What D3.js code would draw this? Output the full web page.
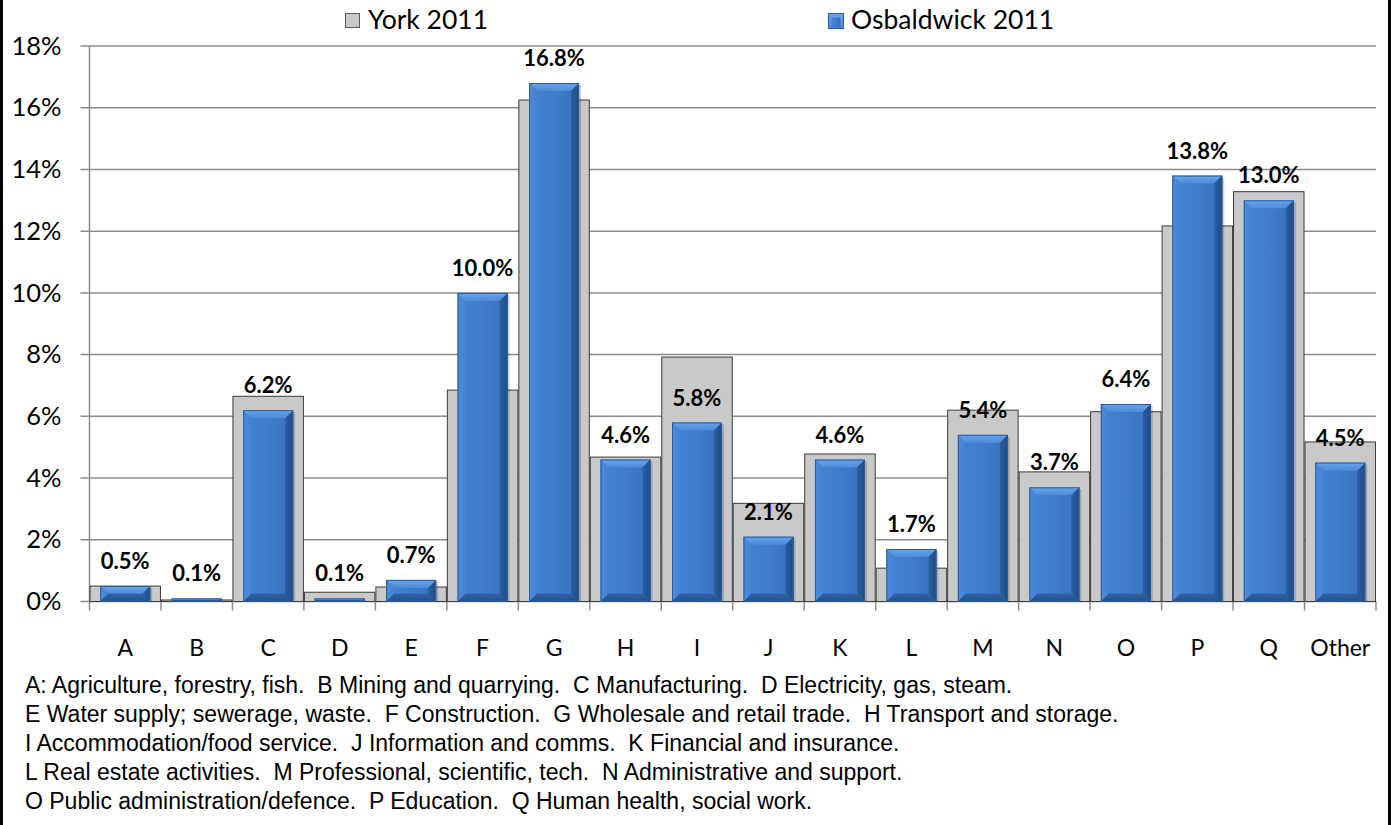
<!DOCTYPE html>
<html>
<head>
<meta charset="utf-8">
<script src="https://d3js.org/d3.v7.min.js"></script>
<style>
    body { margin: 0; background: #fff; }
    svg { display: block; }
    .lbl { font-family: Lato, "Open Sans", sans-serif; }
    .note { font-family: "Liberation Sans", Arial, sans-serif; font-size: 23px; fill: #000; white-space: pre; }
</style>
</head>
<body>
<script>
// categories (industry sections)
const categories = ["A", "B", "C", "D", "E", "F", "G", "H", "I", "J", "K", "L", "M", "N", "O", "P", "Q", "Other"];
// York 2011, % of employed residents
const york = [0.5, 0.05, 6.65, 0.3, 0.47, 6.85, 16.25, 4.68, 7.92, 3.18, 4.78, 1.08, 6.2, 4.2, 6.15, 12.17, 13.28, 5.17];
// Osbaldwick 2011
const osbaldwick = [0.5, 0.1, 6.2, 0.1, 0.7, 10.0, 16.8, 4.6, 5.8, 2.1, 4.6, 1.7, 5.4, 3.7, 6.4, 13.8, 13.0, 4.5];
const yTicks = [0, 2, 4, 6, 8, 10, 12, 14, 16, 18];
const seriesNames = ["York 2011", "Osbaldwick 2011"];
const notes = [
    "A: Agriculture, forestry, fish.  B Mining and quarrying.  C Manufacturing.  D Electricity, gas, steam.",
    "E Water supply; sewerage, waste.  F Construction.  G Wholesale and retail trade.  H Transport and storage.",
    "I Accommodation/food service.  J Information and comms.  K Financial and insurance.",
    "L Real estate activities.  M Professional, scientific, tech.  N Administrative and support.",
    "O Public administration/defence.  P Education.  Q Human health, social work."
];

const createBarChart = () => {
    const width = 1391, height = 825;
    const left = 89.5, right = 1376, top = 46, bottom = 601.5;
    const blueW = 50, bev = 8;

    const svg = d3.select("body").append("svg")
        .attr("width", width)
        .attr("height", height);

    const defs = svg.append("defs");
    const grad = (id, stops, x2, y2) => {
        const g = defs.append("linearGradient").attr("id", id)
            .attr("x1", 0).attr("y1", 0).attr("x2", x2).attr("y2", y2);
        stops.forEach((s) => g.append("stop").attr("offset", s[0]).attr("stop-color", s[1]));
    };
    grad("blueBody", [[0, "#4382d2"], [0.5, "#3f7dcc"], [1, "#3570bd"]], 1, 0);
    grad("blueTop", [[0, "#6aa6ec"], [1, "#4d8ad8"]], 0, 1);
    grad("blueRight", [[0, "#2c5f9f"], [1, "#1f4a82"]], 1, 0);
    grad("blueLeft", [[0, "#4e8cda"], [1, "#4383d3"]], 1, 0);
    grad("blueBottom", [[0, "#2f64a8"], [1, "#254f88"]], 0, 1);

    const xScale = d3.scaleBand()
        .domain(categories)
        .range([left, right])
        .padding(0);

    const yScale = d3.scaleLinear()
        .domain([0, 18])
        .range([bottom, top]);

    // horizontal gridlines
    svg.append("g").selectAll("line")
        .data(yTicks)
        .enter()
        .append("line")
        .attr("x1", left - 9)
        .attr("x2", right)
        .attr("y1", (d) => yScale(d))
        .attr("y2", (d) => yScale(d))
        .attr("stroke", "#8c8c8c")
        .attr("stroke-width", 1.5);

    // y axis labels
    const yAxis = d3.axisLeft(yScale)
        .tickValues(yTicks)
        .tickFormat((d) => d + "%")
        .tickSize(0)
        .tickPadding(28);
    const gy = svg.append("g")
        .attr("transform", "translate(" + left + ",0)")
        .call(yAxis);
    gy.select(".domain").remove();
    gy.selectAll("text")
        .attr("class", "lbl")
        .attr("font-size", 25.5)
        .attr("fill", "#000");

    // vertical axis line
    svg.append("line")
        .attr("x1", left).attr("x2", left)
        .attr("y1", top).attr("y2", bottom + 9)
        .attr("stroke", "#8c8c8c")
        .attr("stroke-width", 1.5);

    // category ticks and labels
    const xAxis = d3.axisBottom(xScale).tickSize(0).tickPadding(38);
    const gx = svg.append("g")
        .attr("transform", "translate(0," + bottom + ")")
        .call(xAxis);
    gx.select(".domain").remove();
    gx.selectAll("text")
        .attr("class", "lbl")
        .attr("font-size", 23)
        .attr("fill", "#000");

    svg.append("g").selectAll("line")
        .data(categories)
        .enter()
        .append("line")
        .attr("x1", (c) => xScale(c) + xScale.bandwidth())
        .attr("x2", (c) => xScale(c) + xScale.bandwidth())
        .attr("y1", bottom)
        .attr("y2", bottom + 9)
        .attr("stroke", "#8c8c8c")
        .attr("stroke-width", 1.5);

    // York bars
    svg.append("g").selectAll("rect")
        .data(york)
        .enter()
        .append("rect")
        .attr("x", (d, i) => xScale(categories[i]) + 0.5)
        .attr("y", (d) => yScale(d))
        .attr("width", xScale.bandwidth() - 1)
        .attr("height", (d) => bottom - yScale(d))
        .attr("fill", "#c9c9c9")
        .attr("stroke", "#3c3c3c")
        .attr("stroke-width", 1);

    // Osbaldwick bars with bevel
    const bars = svg.append("g").selectAll("g")
        .data(osbaldwick)
        .enter()
        .append("g");

    const geo = (d, i) => {
        const x = xScale(categories[i]) + (xScale.bandwidth() - blueW) / 2;
        const y = yScale(d);
        const h = bottom - y;
        const b = Math.min(bev, h / 2);
        return {x: x, y: y, w: blueW, h: h, b: b};
    };
    const pts = (arr) => arr.map((p) => p.join(",")).join(" ");

    bars.append("rect")
        .attr("x", (d, i) => geo(d, i).x + 2)
        .attr("y", (d, i) => geo(d, i).y + 2)
        .attr("width", blueW)
        .attr("height", (d, i) => geo(d, i).h - 2)
        .attr("fill", "rgba(0,0,0,0.18)");

    bars.append("rect")
        .attr("x", (d, i) => geo(d, i).x)
        .attr("y", (d, i) => geo(d, i).y)
        .attr("width", blueW)
        .attr("height", (d, i) => geo(d, i).h)
        .attr("fill", "url(#blueBody)");

    bars.append("polygon")
        .attr("fill", "url(#blueTop)")
        .attr("points", (d, i) => {
            const g = geo(d, i);
            return pts([[g.x, g.y], [g.x + g.w, g.y], [g.x + g.w - g.b, g.y + g.b], [g.x + g.b, g.y + g.b]]);
        });
    bars.append("polygon")
        .attr("fill", "url(#blueLeft)")
        .attr("points", (d, i) => {
            const g = geo(d, i);
            return pts([[g.x, g.y], [g.x + g.b, g.y + g.b], [g.x + g.b, g.y + g.h - g.b], [g.x, g.y + g.h]]);
        });
    bars.append("polygon")
        .attr("fill", "url(#blueRight)")
        .attr("points", (d, i) => {
            const g = geo(d, i);
            return pts([[g.x + g.w, g.y], [g.x + g.w, g.y + g.h], [g.x + g.w - g.b, g.y + g.h - g.b], [g.x + g.w - g.b, g.y + g.b]]);
        });
    bars.append("polygon")
        .attr("fill", "url(#blueBottom)")
        .attr("points", (d, i) => {
            const g = geo(d, i);
            return pts([[g.x, g.y + g.h], [g.x + g.b, g.y + g.h - g.b], [g.x + g.w - g.b, g.y + g.h - g.b], [g.x + g.w, g.y + g.h]]);
        });
    bars.append("rect")
        .attr("x", (d, i) => geo(d, i).x + 0.5)
        .attr("y", (d, i) => geo(d, i).y + 0.5)
        .attr("width", blueW - 1)
        .attr("height", (d, i) => Math.max(geo(d, i).h - 1, 0))
        .attr("fill", "none")
        .attr("stroke", "#2b5d9e")
        .attr("stroke-width", 1);

    // data labels
    svg.append("g").selectAll("text")
        .data(osbaldwick)
        .enter()
        .append("text")
        .attr("class", "lbl")
        .attr("x", (d, i) => xScale(categories[i]) + xScale.bandwidth() / 2)
        .attr("y", (d) => yScale(d) - 17)
        .attr("text-anchor", "middle")
        .attr("font-size", 22)
        .attr("font-weight", "bold")
        .text((d) => d.toFixed(1) + "%");

    // legend
    const legendX = [345, 828];
    const leg = svg.append("g");
    leg.append("rect")
        .attr("x", legendX[0] + 0.5).attr("y", 13.5)
        .attr("width", 14).attr("height", 14)
        .attr("fill", "#c9c9c9").attr("stroke", "#5a5a5a");
    leg.append("rect")
        .attr("x", legendX[1] + 0.5).attr("y", 13.5)
        .attr("width", 15).attr("height", 15)
        .attr("fill", "url(#blueTop)").attr("stroke", "#2b5d9e");
    leg.append("rect")
        .attr("x", legendX[1] + 3.5).attr("y", 17.5)
        .attr("width", 9).attr("height", 10)
        .attr("fill", "url(#blueBody)");
    leg.selectAll("text")
        .data(seriesNames)
        .enter()
        .append("text")
        .attr("class", "lbl")
        .attr("x", (d, i) => legendX[i] + 23)
        .attr("y", 29)
        .attr("font-size", 26.5)
        .text((d) => d);

    // footnotes
    svg.append("g").selectAll("text")
        .data(notes)
        .enter()
        .append("text")
        .attr("class", "note")
        .attr("x", 25)
        .attr("y", (d, i) => 693 + i * 29)
        .text((d) => d);

    // dark side edges of the picture
    svg.append("rect").attr("x", 0).attr("y", 0).attr("width", 3).attr("height", height).attr("fill", "#000");
    svg.append("rect").attr("x", 1388).attr("y", 0).attr("width", 3).attr("height", height).attr("fill", "#000");
};

document.addEventListener("DOMContentLoaded", createBarChart);
</script>
</body>
</html>
